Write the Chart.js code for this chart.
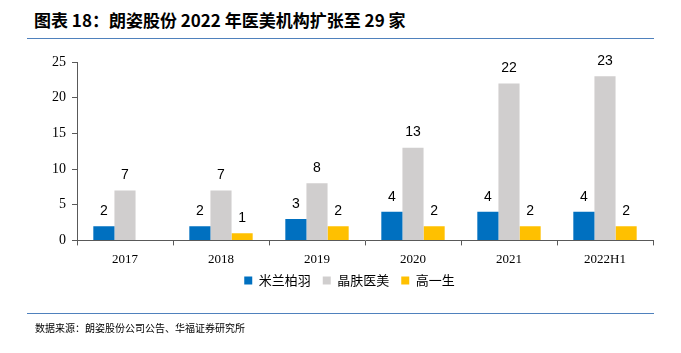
<!DOCTYPE html>
<html>
<head>
<meta charset="utf-8">
<script src="https://cdn.jsdelivr.net/npm/chart.js@4"></script>
<style>
  body { margin: 0; background: #fff; width: 681px; height: 353px; overflow: hidden; position: relative; }
  #title { position: absolute; left: 34px; top: 7px; font: bold 17px "Noto Sans CJK SC", sans-serif; color: #000; }
  #line1 { position: absolute; left: 27px; top: 38px; width: 627px; height: 1px; background: #4f81bd; }
  #line2 { position: absolute; left: 27px; top: 313px; width: 627px; height: 1px; background: #4f81bd; }
  #source { position: absolute; left: 35px; top: 320px; font: 10px "Noto Sans CJK SC", sans-serif; color: #000; }
  #wrap { position: absolute; left: 0; top: 0; width: 681px; height: 353px; }
</style>
</head>
<body>
<div id="title">图表 18：朗姿股份 2022 年医美机构扩张至 29 家</div>
<div id="line1"></div>
<div id="wrap"><canvas id="c"></canvas></div>
<div id="line2"></div>
<div id="source">数据来源：朗姿股份公司公告、华福证券研究所</div>
<script>
const years = ['2017', '2018', '2019', '2020', '2021', '2022H1'];
const milan = [2, 2, 3, 4, 4, 4];
const jingfu = [7, 7, 8, 13, 22, 23];
const gaoyisheng = [null, 1, 2, 2, 2, 2];

// draw value labels above each bar
const valueLabels = {
  id: 'valueLabels',
  afterDatasetsDraw(chart) {
    const ctx = chart.ctx;
    ctx.save();
    ctx.font = '14px "Liberation Sans", sans-serif';
    ctx.fillStyle = '#000';
    ctx.textAlign = 'center';
    ctx.textBaseline = 'bottom';
    chart.data.datasets.forEach((ds, i) => {
      chart.getDatasetMeta(i).data.forEach((bar, j) => {
        const v = ds.data[j];
        if (v == null) return;
        ctx.fillText(v, bar.x, bar.y - 8);
      });
    });
    ctx.restore();
  }
};

// pull the legend a bit closer to the axis labels
const legendShift = {
  id: 'legendShift',
  afterLayout(chart) {
    chart.legend.top -= 11;
    chart.legend.bottom -= 11;
  }
};

new Chart(document.getElementById('c'), {
  type: 'bar',
  data: {
    labels: years,
    datasets: [
      { label: '米兰柏羽', data: milan, backgroundColor: '#0070C0' },
      { label: '晶肤医美', data: jingfu, backgroundColor: '#D0CECE' },
      { label: '高一生', data: gaoyisheng, backgroundColor: '#FFC000' },
    ],
  },
  options: {
    responsive: true,
    maintainAspectRatio: false,
    animation: false,
    layout: { padding: { left: 46, right: 28, top: 62, bottom: 45 } },
    datasets: { bar: { categoryPercentage: 0.66, barPercentage: 1 } },
    plugins: {
      legend: {
        position: 'bottom',
        labels: {
          boxWidth: 8,
          boxHeight: 8,
          padding: 12,
          color: '#000',
          font: { family: '"Noto Sans CJK SC", sans-serif', size: 13 },
        },
      },
      tooltip: { enabled: false },
    },
    scales: {
      x: {
        offset: true,
        grid: { offset: true, drawOnChartArea: false, color: '#595959', tickLength: 5 },
        border: { color: '#595959' },
        ticks: { color: '#000', font: { family: '"Liberation Serif", serif', size: 13 }, padding: 6 },
      },
      y: {
        min: 0,
        max: 25,
        grid: { drawOnChartArea: false, color: '#595959', tickLength: 5 },
        border: { color: '#595959' },
        ticks: { stepSize: 5, color: '#000', font: { family: '"Liberation Serif", serif', size: 14 }, padding: 6 },
      },
    },
  },
  plugins: [valueLabels, legendShift],
});
</script>
</body>
</html>
